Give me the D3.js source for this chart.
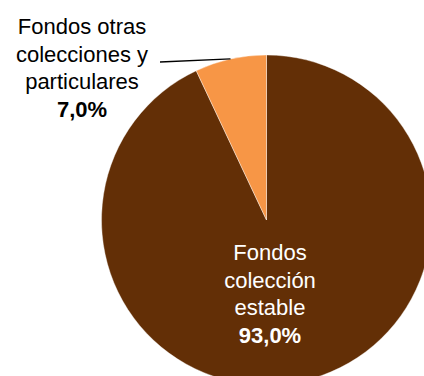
<!DOCTYPE html>
<html>
<head>
<meta charset="utf-8">
<script src="https://cdn.jsdelivr.net/npm/d3@7/dist/d3.min.js"></script>
<style>
  html, body { margin: 0; padding: 0; background: #ffffff; }
  svg { display: block; }
  text { font-family: "Liberation Sans", Arial, sans-serif; }
</style>
</head>
<body>
<div id="chart"></div>
<script>
// Share of holdings by origin
const categories = ["Fondos colección estable", "Fondos otras colecciones y particulares"];
const values = [93.0, 7.0];
const labelLines = [["Fondos", "colección", "estable"], ["Fondos otras", "colecciones y", "particulares"]];
const valueLabels = ["93,0%", "7,0%"];
const colors = ["#632f06", "#f79646"];

const width = 424, height = 376;
const cx = 266.5, cy = 220, radius = 165;

const svg = d3.select("#chart").append("svg")
  .attr("width", width)
  .attr("height", height);

const pie = d3.pie().sort(null).value(d => d)(values);
const arc = d3.arc().innerRadius(0).outerRadius(radius);

const g = svg.append("g").attr("transform", `translate(${cx},${cy})`);

g.selectAll("path.slice")
  .data(pie)
  .join("path")
  .attr("class", "slice")
  .attr("d", arc)
  .attr("fill", (d, i) => colors[i])
  .attr("stroke", "#ffffff")
  .attr("stroke-width", 0.4);

const fontSize = 22;
const lineH = 27.5;

// Inside label for the large slice
const inner = svg.append("text")
  .attr("text-anchor", "middle")
  .attr("font-size", fontSize)
  .attr("fill", "#ffffff");
labelLines[0].forEach((t, i) => {
  inner.append("tspan").attr("x", 270).attr("y", 260 + i * lineH).text(t);
});
inner.append("tspan").attr("x", 270).attr("y", 260 + 3 * lineH)
  .attr("font-weight", "bold").text(valueLabels[0]);

// Outside label for the small slice, with leader line to the arc midpoint
const small = pie[1];
const mid = (small.startAngle + small.endAngle) / 2;
const ex = cx + radius * Math.sin(mid);
const ey = cy - radius * Math.cos(mid);
svg.append("line")
  .attr("x1", 160).attr("y1", 62)
  .attr("x2", ex).attr("y2", ey)
  .attr("stroke", "#000000")
  .attr("stroke-width", 1.3);

const outer = svg.append("text")
  .attr("text-anchor", "middle")
  .attr("font-size", fontSize)
  .attr("fill", "#000000");
labelLines[1].forEach((t, i) => {
  outer.append("tspan").attr("x", 82).attr("y", 34 + i * lineH).text(t);
});
outer.append("tspan").attr("x", 82).attr("y", 34 + 3 * lineH)
  .attr("font-weight", "bold").text(valueLabels[1]);
</script>
</body>
</html>
